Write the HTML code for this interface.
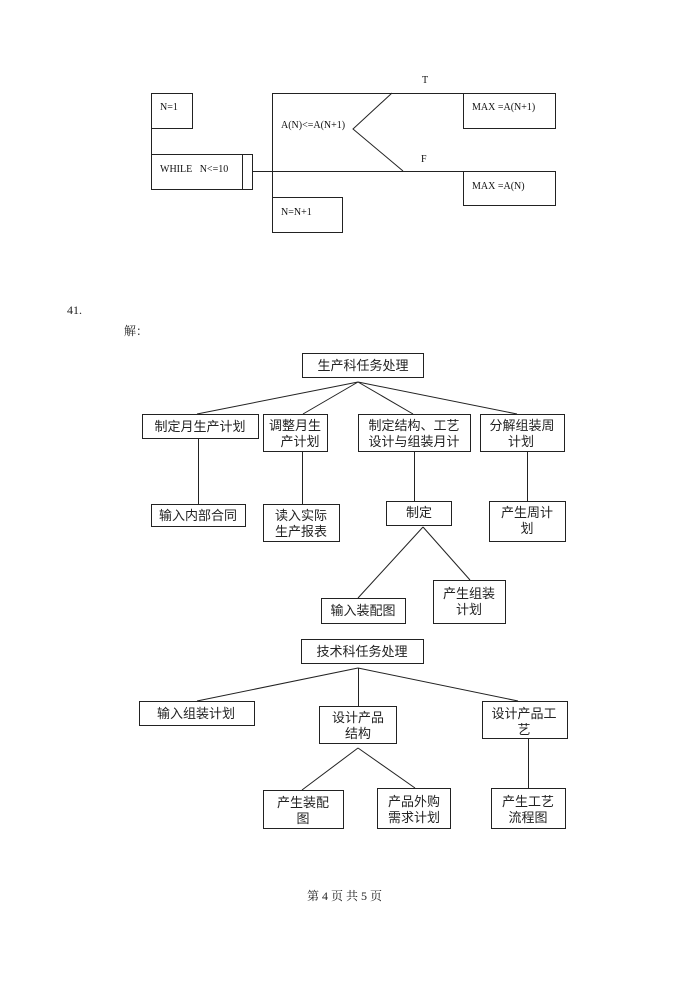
<!DOCTYPE html>
<html><head><meta charset="utf-8"><style>
html,body{margin:0;padding:0;background:#fff;}
svg{display:block;}
.s{font-family:"Liberation Serif","Noto Serif CJK SC",serif;font-size:10px;fill:#111;}
.c{font-family:"Liberation Sans","Noto Sans CJK SC",sans-serif;font-size:13px;fill:#222;}
.t{font-family:"Liberation Serif","Noto Serif CJK SC",serif;font-size:12px;fill:#222;}
rect,line,polyline{fill:none;stroke:#222;stroke-width:1;}
</style></head><body>
<svg width="695" height="982" viewBox="0 0 695 982" xmlns="http://www.w3.org/2000/svg">
<g shape-rendering="crispEdges">
<!-- NS diagram -->
<rect x="151.5" y="93.5" width="41" height="35"/>
<line x1="151.5" y1="128" x2="151.5" y2="154"/>
<rect x="151.5" y="154.5" width="101" height="35"/>
<line x1="242.5" y1="154" x2="242.5" y2="189"/>
<line x1="272.5" y1="93" x2="272.5" y2="233"/>
<line x1="272" y1="93.5" x2="556" y2="93.5"/>
<line x1="252" y1="171.5" x2="556" y2="171.5"/>
<rect x="463.5" y="93.5" width="92" height="35"/>
<rect x="463.5" y="171.5" width="92" height="34"/>
<rect x="272.5" y="197.5" width="70" height="35"/>
</g>
<polyline points="392,93 353,129 403,171"/>
<text class="s" x="160" y="110">N=1</text>
<text class="s" x="160" y="172">WHILE&#160;&#160;&#160;N&lt;=10</text>
<text class="s" x="281" y="128">A(N)&lt;=A(N+1)</text>
<text class="s" x="472" y="110">MAX =A(N+1)</text>
<text class="s" x="472" y="189">MAX =A(N)</text>
<text class="s" x="281" y="215">N=N+1</text>
<text class="s" x="422" y="83">T</text>
<text class="s" x="421" y="162">F</text>

<text class="t" x="67" y="314">41.</text>
<text class="t" x="124" y="335">解：</text>

<!-- Tree 1 -->
<g shape-rendering="crispEdges">
<rect x="302.5" y="353.5" width="121" height="24"/>
<rect x="142.5" y="414.5" width="116" height="24"/>
<rect x="263.5" y="414.5" width="64" height="37"/>
<rect x="358.5" y="414.5" width="112" height="37"/>
<rect x="480.5" y="414.5" width="84" height="37"/>
<line x1="198.5" y1="439" x2="198.5" y2="504"/>
<rect x="151.5" y="504.5" width="94" height="22"/>
<line x1="302.5" y1="451" x2="302.5" y2="504"/>
<rect x="263.5" y="504.5" width="76" height="37"/>
<line x1="414.5" y1="451" x2="414.5" y2="501"/>
<rect x="386.5" y="501.5" width="65" height="24"/>
<line x1="527.5" y1="451" x2="527.5" y2="501"/>
<rect x="489.5" y="501.5" width="76" height="40"/>
<rect x="321.5" y="598.5" width="84" height="25"/>
<rect x="433.5" y="580.5" width="72" height="43"/>
</g>
<line x1="358" y1="382" x2="197" y2="414"/>
<line x1="358" y1="382" x2="303" y2="414"/>
<line x1="358" y1="382" x2="413" y2="414"/>
<line x1="358" y1="382" x2="517" y2="414"/>
<line x1="423" y1="527" x2="358" y2="598"/>
<line x1="423" y1="527" x2="470" y2="580"/>
<g class="c" text-anchor="middle">
<text x="363" y="370">生产科任务处理</text>
<text x="200" y="431">制定月生产计划</text>
<text x="295" y="430">调整月生</text><text x="300" y="446">产计划</text>
<text x="414" y="430">制定结构、工艺</text><text x="414" y="446">设计与组装月计</text>
<text x="522" y="430">分解组装周</text><text x="521" y="446">计划</text>
<text x="198" y="520">输入内部合同</text>
<text x="301" y="520">读入实际</text><text x="301" y="536">生产报表</text>
<text x="419" y="517">制定</text>
<text x="527" y="517">产生周计</text><text x="527" y="533">划</text>
<text x="363" y="615">输入装配图</text>
<text x="469" y="598">产生组装</text><text x="469" y="614">计划</text>
</g>

<!-- Tree 2 -->
<g shape-rendering="crispEdges">
<rect x="301.5" y="639.5" width="122" height="24"/>
<rect x="139.5" y="701.5" width="115" height="24"/>
<rect x="319.5" y="706.5" width="77" height="37"/>
<line x1="358.5" y1="668" x2="358.5" y2="706"/>
<rect x="482.5" y="701.5" width="85" height="37"/>
<line x1="528.5" y1="738" x2="528.5" y2="788"/>
<rect x="263.5" y="790.5" width="80" height="38"/>
<rect x="377.5" y="788.5" width="73" height="40"/>
<rect x="491.5" y="788.5" width="74" height="40"/>
</g>
<line x1="358" y1="668" x2="197" y2="701"/>
<line x1="358" y1="668" x2="518" y2="701"/>
<line x1="358" y1="748" x2="302" y2="790"/>
<line x1="358" y1="748" x2="415" y2="788"/>
<g class="c" text-anchor="middle">
<text x="362" y="656">技术科任务处理</text>
<text x="196" y="718">输入组装计划</text>
<text x="358" y="722">设计产品</text><text x="358" y="738">结构</text>
<text x="524" y="718">设计产品工</text><text x="524" y="734">艺</text>
<text x="303" y="807">产生装配</text><text x="303" y="823">图</text>
<text x="414" y="806">产品外购</text><text x="414" y="822">需求计划</text>
<text x="528" y="806">产生工艺</text><text x="528" y="822">流程图</text>
</g>

<text class="t" x="307" y="900" style="font-size:12px">第 4 页 共 5 页</text>
</svg>
</body></html>
